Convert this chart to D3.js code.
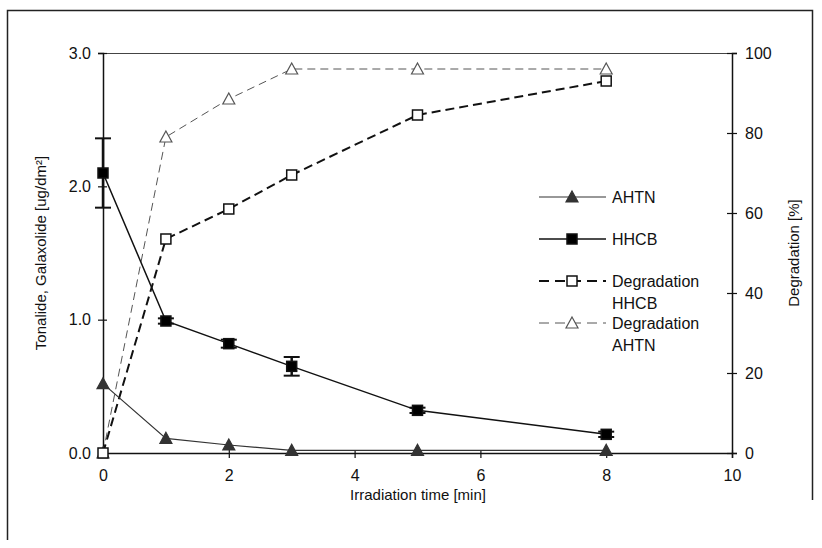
<!DOCTYPE html>
<html>
<head>
<meta charset="utf-8">
<script src="https://cdn.jsdelivr.net/npm/d3@7"></script>
<style>
  body { margin: 0; background: #fff; }
  svg { font-family: "Liberation Sans", Arial, sans-serif; }
</style>
</head>
<body>
<script>
// Irradiation time [min]
var times = [0, 1, 2, 3, 5, 8];
// concentrations [ug/dm2]
var hhcb = [2.1, 0.99, 0.82, 0.65, 0.32, 0.14];
var hhcbErr = [0.26, 0.02, 0.03, 0.07, 0.02, 0.02];
var ahtn = [0.52, 0.11, 0.06, 0.02, 0.02, 0.02];
// degradation [%]
var degHhcb = [0, 53.5, 61, 69.5, 84.5, 93];
var degAhtn = [0, 79, 88.5, 96, 96, 96];

var xTicks = [0, 2, 4, 6, 8, 10];
var yLeftTicks = [0, 1, 2, 3];
var yRightTicks = [0, 20, 40, 60, 80, 100];

var width = 822, height = 548;
var margin = { top: 53, right: 90, bottom: 95, left: 103 };
var w = width - margin.left - margin.right,
    h = height - margin.top - margin.bottom;

var svg = d3.select("body").append("svg")
    .attr("width", width)
    .attr("height", height);

// outer frame
svg.append("path")
    .attr("d", "M7.5,540 L7.5,10.5 L812.5,10.5 L812.5,500")
    .attr("fill", "none")
    .attr("stroke", "#222")
    .attr("stroke-width", 1.5);

var g = svg.append("g")
    .attr("transform", "translate(" + margin.left + "," + margin.top + ")");

var x = d3.scaleLinear().domain([0, 10]).range([0, w]);
var yL = d3.scaleLinear().domain([0, 3]).range([h, 0]);
var yR = d3.scaleLinear().domain([0, 100]).range([h, 0]);

// top border of plot area
g.append("line")
    .attr("x1", 0).attr("x2", w).attr("y1", 0.5).attr("y2", 0.5)
    .attr("stroke", "#444").attr("stroke-width", 1);

// axes
var xAxis = g.append("g")
    .attr("transform", "translate(0," + h + ")")
    .call(d3.axisBottom(x).tickValues(xTicks).tickSize(5).tickPadding(12));
xAxis.selectAll(".tick line").attr("y1", -3);

var leftAxis = g.append("g")
    .call(d3.axisLeft(yL).tickValues(yLeftTicks).tickFormat(d3.format(".1f")).tickSize(5).tickPadding(7));
leftAxis.selectAll(".tick line").attr("x1", 4);

var rightAxis = g.append("g")
    .attr("transform", "translate(" + w + ",0)")
    .call(d3.axisRight(yR).tickValues(yRightTicks).tickSize(5).tickPadding(8));
rightAxis.selectAll(".tick line").attr("x1", -5);

g.selectAll(".domain").attr("stroke", "#111").attr("stroke-width", 1.5);
g.selectAll(".tick line").attr("stroke", "#111").attr("stroke-width", 1.2);
g.selectAll(".tick text")
    .attr("font-size", 16)
    .attr("fill", "#111")
    .attr("font-family", "Liberation Sans, Arial, sans-serif");

// axis titles
svg.append("text")
    .attr("x", 418).attr("y", 500)
    .attr("text-anchor", "middle")
    .attr("font-size", 15)
    .attr("fill", "#111")
    .text("Irradiation time [min]");

svg.append("text")
    .attr("transform", "translate(46,253) rotate(-90)")
    .attr("text-anchor", "middle")
    .attr("font-size", 15)
    .attr("fill", "#111")
    .text("Tonalide, Galaxolide [ug/dm²]");

svg.append("text")
    .attr("transform", "translate(799,253) rotate(-90)")
    .attr("text-anchor", "middle")
    .attr("font-size", 15)
    .attr("fill", "#111")
    .text("Degradation [%]");

// series definitions
var series = [
    { name: ["Degradation", "AHTN"], vals: degAhtn, y: yR, stroke: "#555", sw: 1, dash: "8,5", marker: "tri", fill: "#fff" },
    { name: ["Degradation", "HHCB"], vals: degHhcb, y: yR, stroke: "#111", sw: 2, dash: "9,5", marker: "sq", fill: "#fff" },
    { name: ["AHTN"], vals: ahtn, y: yL, stroke: "#333", sw: 1.2, dash: null, marker: "tri", fill: "#333" },
    { name: ["HHCB"], vals: hhcb, y: yL, stroke: "#111", sw: 1.5, dash: null, marker: "sq", fill: "#000" }
];

function drawMarker(sel, type, fill, stroke) {
    if (type === "sq") {
        sel.append("rect")
            .attr("x", -5).attr("y", -5).attr("width", 10).attr("height", 10)
            .attr("fill", fill).attr("stroke", stroke).attr("stroke-width", 1.5);
    } else {
        sel.append("path")
            .attr("d", "M0,-6 L6,5 L-6,5 Z")
            .attr("fill", fill).attr("stroke", stroke).attr("stroke-width", 1.2);
    }
}

// error bars for HHCB
var errG = g.append("g");
times.forEach(function (t, i) {
    var cx = x(t), top = yL(hhcb[i] + hhcbErr[i]), bot = yL(hhcb[i] - hhcbErr[i]);
    errG.append("line").attr("x1", cx).attr("x2", cx).attr("y1", top).attr("y2", bot)
        .attr("stroke", "#111").attr("stroke-width", 2.5);
    [top, bot].forEach(function (yy) {
        errG.append("line").attr("x1", cx - 8).attr("x2", cx + 8).attr("y1", yy).attr("y2", yy)
            .attr("stroke", "#111").attr("stroke-width", 2);
    });
});

series.forEach(function (s) {
    var line = d3.line()
        .x(function (d, i) { return x(times[i]); })
        .y(function (d) { return s.y(d); });
    g.append("path")
        .datum(s.vals)
        .attr("d", line)
        .attr("fill", "none")
        .attr("stroke", s.stroke)
        .attr("stroke-width", s.sw)
        .attr("stroke-dasharray", s.dash);
    g.selectAll(null)
        .data(s.vals)
        .enter().append("g")
        .attr("transform", function (d, i) { return "translate(" + x(times[i]) + "," + s.y(d) + ")"; })
        .each(function () { drawMarker(d3.select(this), s.marker, s.fill, s.stroke); });
});

// legend
var legendItems = [series[2], series[3], series[1], series[0]];
var legendY = [197, 239, 281, 323];
legendItems.forEach(function (s, i) {
    var lg = svg.append("g").attr("transform", "translate(539," + legendY[i] + ")");
    lg.append("line")
        .attr("x1", 0).attr("x2", 67).attr("y1", 0).attr("y2", 0)
        .attr("stroke", s.stroke).attr("stroke-width", s.sw)
        .attr("stroke-dasharray", s.dash ? "10,6" : null);
    drawMarker(lg.append("g").attr("transform", "translate(33,0)"), s.marker, s.fill, s.stroke);
    s.name.forEach(function (n, j) {
        lg.append("text")
            .attr("x", 73).attr("y", 6 + j * 22)
            .attr("font-size", 16)
            .attr("fill", "#111")
            .text(n);
    });
});
</script>
</body>
</html>
